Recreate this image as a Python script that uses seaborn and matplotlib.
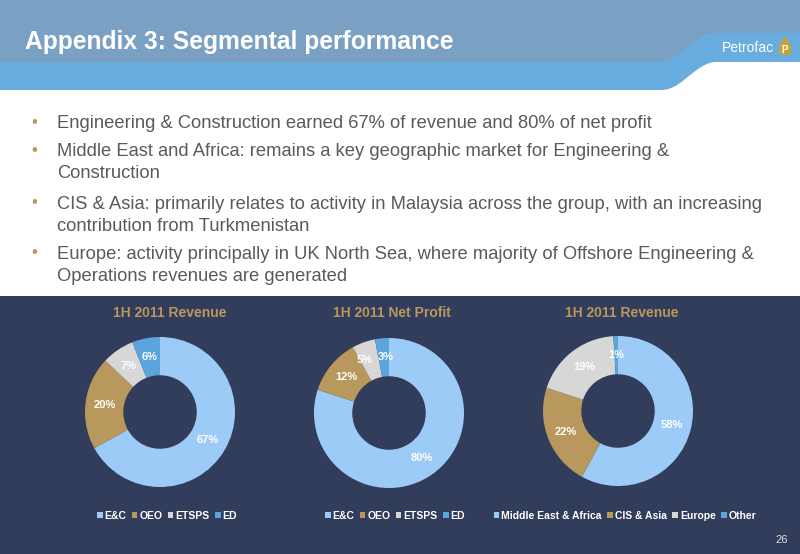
import numpy as np
import matplotlib
matplotlib.use("Agg")
import matplotlib.pyplot as plt
import seaborn as sns
from matplotlib.patches import Polygon, Rectangle, Patch, Circle

# data
seg_labels = ['E&C', 'OEO', 'ETSPS', 'ED']
rev_share = [67, 20, 7, 6]
profit_share = [80, 12, 5, 3]
geo_labels = ['Middle East & Africa', 'CIS & Asia', 'Europe', 'Other']
geo_share = [58, 22, 19, 1]
chart_titles = ['1H 2011 Revenue', '1H 2011 Net Profit', '1H 2011 Revenue']
bullets = [
    'Engineering & Construction earned 67% of revenue and 80% of net profit',
    'Middle East and Africa: remains a key geographic market for Engineering &\nConstruction',
    'CIS & Asia: primarily relates to activity in Malaysia across the group, with an increasing\ncontribution from Turkmenistan',
    'Europe: activity principally in UK North Sea, where majority of Offshore Engineering &\nOperations revenues are generated',
]

sns.set_style('white')
plt.rcParams['font.family'] = ['Liberation Sans', 'DejaVu Sans']

navy = '#323d5b'
gold = '#b8985c'
donut_colors = ['#9dcbf7', '#b8985c', '#d7d7d7', '#5ba5dc']

W, H = 800, 554
fig = plt.figure(figsize=(8, 5.54), dpi=100)
bg = fig.add_axes([0, 0, 1, 1])
bg.set_xlim(0, W)
bg.set_ylim(H, 0)
bg.axis('off')

# header bands
def band(y_left, y_right, x0, x1):
    xs = np.linspace(0, W, 200)
    t = np.clip((xs - x0) / (x1 - x0), 0, 1)
    ys = y_left + (y_right - y_left) * (1 - np.cos(np.pi * t)) / 2
    pts = [(0, 0), (W, 0)] + list(zip(xs[::-1], ys[::-1]))
    return Polygon(pts, closed=True, lw=0)

light = band(90, 62, 662, 716)
light.set_facecolor('#69ade0')
bg.add_patch(light)
dark = band(62, 33, 660, 714)
dark.set_facecolor('#7aa0c3')
bg.add_patch(dark)

bg.text(25, 42, 'Appendix 3: Segmental performance', color='white', fontsize=17.7,
        fontweight='bold', va='center', ha='left')
bg.text(722, 48, 'Petrofac', color='white', fontsize=10, va='center', ha='left')
bg.add_patch(Polygon([(779, 46), (791, 46), (785, 36)], closed=True, fc='#c9a233', lw=0))
bg.add_patch(Circle((785, 49), 6.5, fc='#c9a233', lw=0))
bg.text(785, 50, 'P', color='white', fontsize=7, fontweight='bold', ha='center', va='center')

# bullets
ys = [122, 150, 203, 253]
for y, txt in zip(ys, bullets):
    bg.text(31, y, '•', color=gold, fontsize=12, va='center', ha='left')
    bg.text(57, y - 7, txt, color='#5a5a5a', fontsize=13.2, va='top', ha='left',
            linespacing=1.38)

# bottom panel
bg.add_patch(Rectangle((0, 296), W, H - 296, fc=navy, lw=0))
bg.text(782, 540, '26', color='#e0e0e0', fontsize=8, ha='center', va='center')

# donuts
centers = [(160, 412), (389, 413), (618, 411)]
values = [rev_share, profit_share, geo_share]
labels = [seg_labels, seg_labels, geo_labels]
title_x = [170, 392, 622]
legend_x = [167, 395, 625]
r = 75
for i, ((cx, cy), vals, labs, title, tx, lx) in enumerate(zip(centers, values, labels, chart_titles, title_x, legend_x)):
    ax = fig.add_axes([(cx - r) / W, (H - cy - r) / H, 2 * r / W, 2 * r / H])
    wedges, texts, autotexts = ax.pie(
        vals, colors=donut_colors, startangle=90, counterclock=False,
        wedgeprops=dict(width=0.51, linewidth=0), pctdistance=0.745,
        autopct=lambda p: f'{p:.0f}%',
        textprops=dict(color='white', fontsize=8, fontweight='bold'))
    if i == 1:
        # small slices sit side by side, nudge them apart a touch
        x, y = autotexts[2].get_position()
        autotexts[2].set_position((x - 0.07, y))
        x, y = autotexts[3].get_position()
        autotexts[3].set_position((x + 0.03, y))
    ax.set_xlim(-1, 1)
    ax.set_ylim(-1, 1)
    ax.set_facecolor('none')
    bg.text(tx, 313, title, color=gold, fontsize=10, fontweight='bold', ha='center', va='center')
    handles = [Patch(fc=c, lw=0) for c in donut_colors]
    fig.legend(handles, labs, loc='center', bbox_to_anchor=(lx / W, 1 - 516 / H), ncol=4,
               frameon=False, handlelength=0.55, handleheight=0.55, handletextpad=0.2,
               columnspacing=0.5, labelcolor='white',
               prop=dict(size=7.5, weight='bold'))

fig.savefig('out.png', dpi=100)
